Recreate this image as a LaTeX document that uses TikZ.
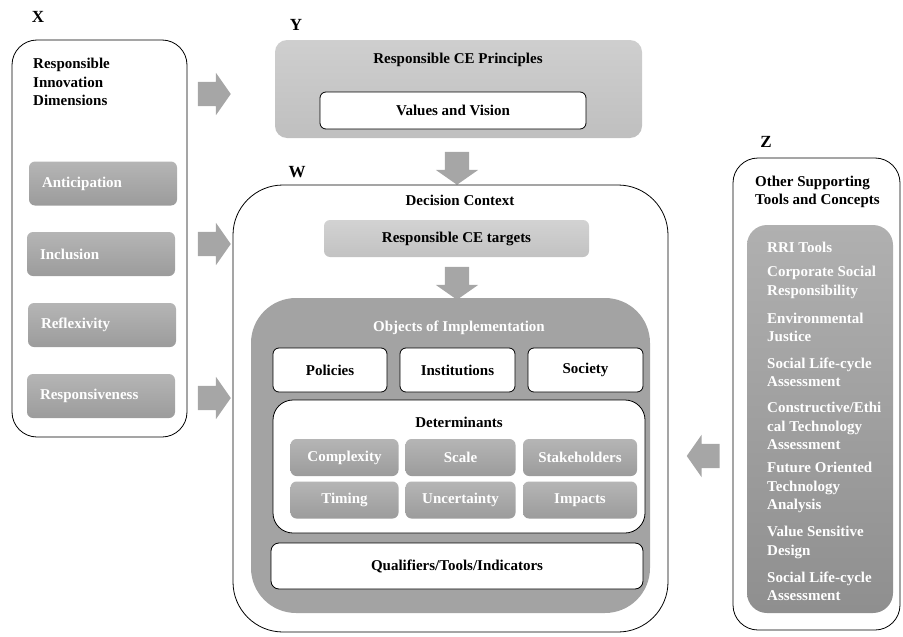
\documentclass[tikz,border=0pt]{standalone}
\usepackage{fontspec}
\setmainfont{Liberation Serif}
\usetikzlibrary{shapes.arrows}
\definecolor{arrowgray}{HTML}{A6A6A6}
\definecolor{darkbox}{HTML}{A3A3A3}

\begin{document}
\begin{tikzpicture}[x=1pt,y=-1pt,
  font=\fontsize{15}{18.5}\selectfont\bfseries,
  outer/.style={draw, thick, rounded corners=25pt, inner sep=0pt},
  whitebox/.style={draw, thick, fill=white, rounded corners=6pt, inner sep=0pt},
  graybox/.style={rounded corners=6pt, top color=gray!58, bottom color=gray!78, text=white, inner sep=0pt},
  dimbox/.style={graybox, minimum width=148, minimum height=44, text width=122, inner xsep=13pt, align=left},
  detbox/.style={graybox, minimum height=37},
  fatarrow/.style={single arrow, fill=arrowgray, inner sep=12pt, single arrow head extend=9pt, single arrow tip angle=110, minimum height=33},
  label/.style={font=\fontsize{17}{20}\selectfont\bfseries, inner sep=0pt}]
\useasboundingbox (0,0) rectangle (903,637);

% X : responsible innovation dimensions
\draw (38,17) node[label] (labX) {X};
\draw (99.5,238.5) node[outer, minimum width=175, minimum height=397] (X) {};
\draw (33,82) node[anchor=west, align=left, inner sep=0pt] (Xtitle) {Responsible\\Innovation\\Dimensions};
\draw (103,183.5) node[dimbox] (antic) {Anticipation};
\draw (101,254) node[dimbox] (incl) {Inclusion};
\draw (102,325) node[dimbox] (refl) {Reflexivity};
\draw (101,396) node[dimbox] (resp) {Responsiveness};
\draw (210,94) node[fatarrow] (arrXY) {};
\draw (210,244) node[fatarrow] (arrXW) {};
\draw (210,398) node[fatarrow] (arrXO) {};

% Y : principles
\draw (296,25) node[label] (labY) {Y};
\draw (458.5,89) node[rounded corners=12pt, top color=gray!38, bottom color=gray!50, minimum width=367, minimum height=98, inner sep=0pt] (Y) {};
\draw (458,60) node (Ytitle) {Responsible CE Principles};
\draw (453,110.5) node[whitebox, minimum width=266, minimum height=37] (values) {Values and Vision};
\draw (457,164) node[fatarrow, minimum height=32, shape border rotate=270] (arrYW) {};

% W : decision context
\draw (297,172) node[label] (labW) {W};
\draw (450.5,408.5) node[outer, rounded corners=50pt, minimum width=435, minimum height=447] (W) {};
\draw (460,200) node (Wtitle) {Decision Context};
\draw (456.5,238.5) node[rounded corners=6pt, top color=gray!35, bottom color=gray!48, minimum width=265, minimum height=37, inner sep=0pt] (targets) {Responsible CE targets};
\draw (457,279) node[fatarrow, minimum height=32, shape border rotate=270] (arrTO) {};
\draw (450.5,455.5) node[fill=darkbox, rounded corners=45pt, minimum width=399, minimum height=315, inner sep=0pt] (objects) {};
\draw (459,328) node[text=white] (objtitle) {Objects of Implementation};
\draw (330,370) node[whitebox, minimum width=114, minimum height=44] (policies) {Policies};
\draw (457.5,370) node[whitebox, minimum width=115, minimum height=44] (instit) {Institutions};
\draw (585.5,370) node[whitebox, minimum width=115, minimum height=44] (society) {Society};
\draw (459,466.5) node[whitebox, rounded corners=20pt, minimum width=372, minimum height=133] (determ) {};
\draw (459,422) node (dettitle) {Determinants};
\draw (344.5,457.5) node[detbox, minimum width=108] (complex) {Complexity};
\draw (460.5,457.5) node[detbox, minimum width=110] (scale) {Scale};
\draw (580,457.5) node[detbox, minimum width=114] (stake) {Stakeholders};
\draw (344.5,500) node[detbox, minimum width=108] (timing) {Timing};
\draw (460.5,500) node[detbox, minimum width=110] (uncert) {Uncertainty};
\draw (580,500) node[detbox, minimum width=114] (impacts) {Impacts};
\draw (457,566) node[whitebox, rounded corners=8pt, minimum width=372, minimum height=46] (qualif) {Qualifiers/Tools/Indicators};

% Z : other supporting tools
\draw (766,142) node[label] (labZ) {Z};
\draw (816.5,394) node[outer, minimum width=167, minimum height=472] (Z) {};
\draw (755,192) node[anchor=west, align=left, inner sep=0pt] (Ztitle) {Other Supporting\\Tools and Concepts};
\draw (820,419) node[rounded corners=20pt, top color=gray!62, bottom color=gray!88, minimum width=146, minimum height=388, inner sep=0pt] (Zinner) {};
\foreach \y/\txt [count=\i] in {247/{RRI Tools}, 282.5/{Corporate Social\\Responsibility},
    327.5/{Environmental\\Justice}, 372.5/{Social Life-cycle\\Assessment},
    426/{Constructive/Ethi\\cal Technology\\Assessment}, 487.5/{Future Oriented\\Technology\\Analysis},
    542.5/{Value Sensitive\\Design}, 586.5/{Social Life-cycle\\Assessment}}
  \draw (767,\y) node[anchor=west, align=left, inner sep=0pt, text=white] (tool\i) {\txt};
\draw (707.5,456) node[fatarrow, minimum height=31, shape border rotate=180] (arrZW) {};
\end{tikzpicture}
\end{document}
